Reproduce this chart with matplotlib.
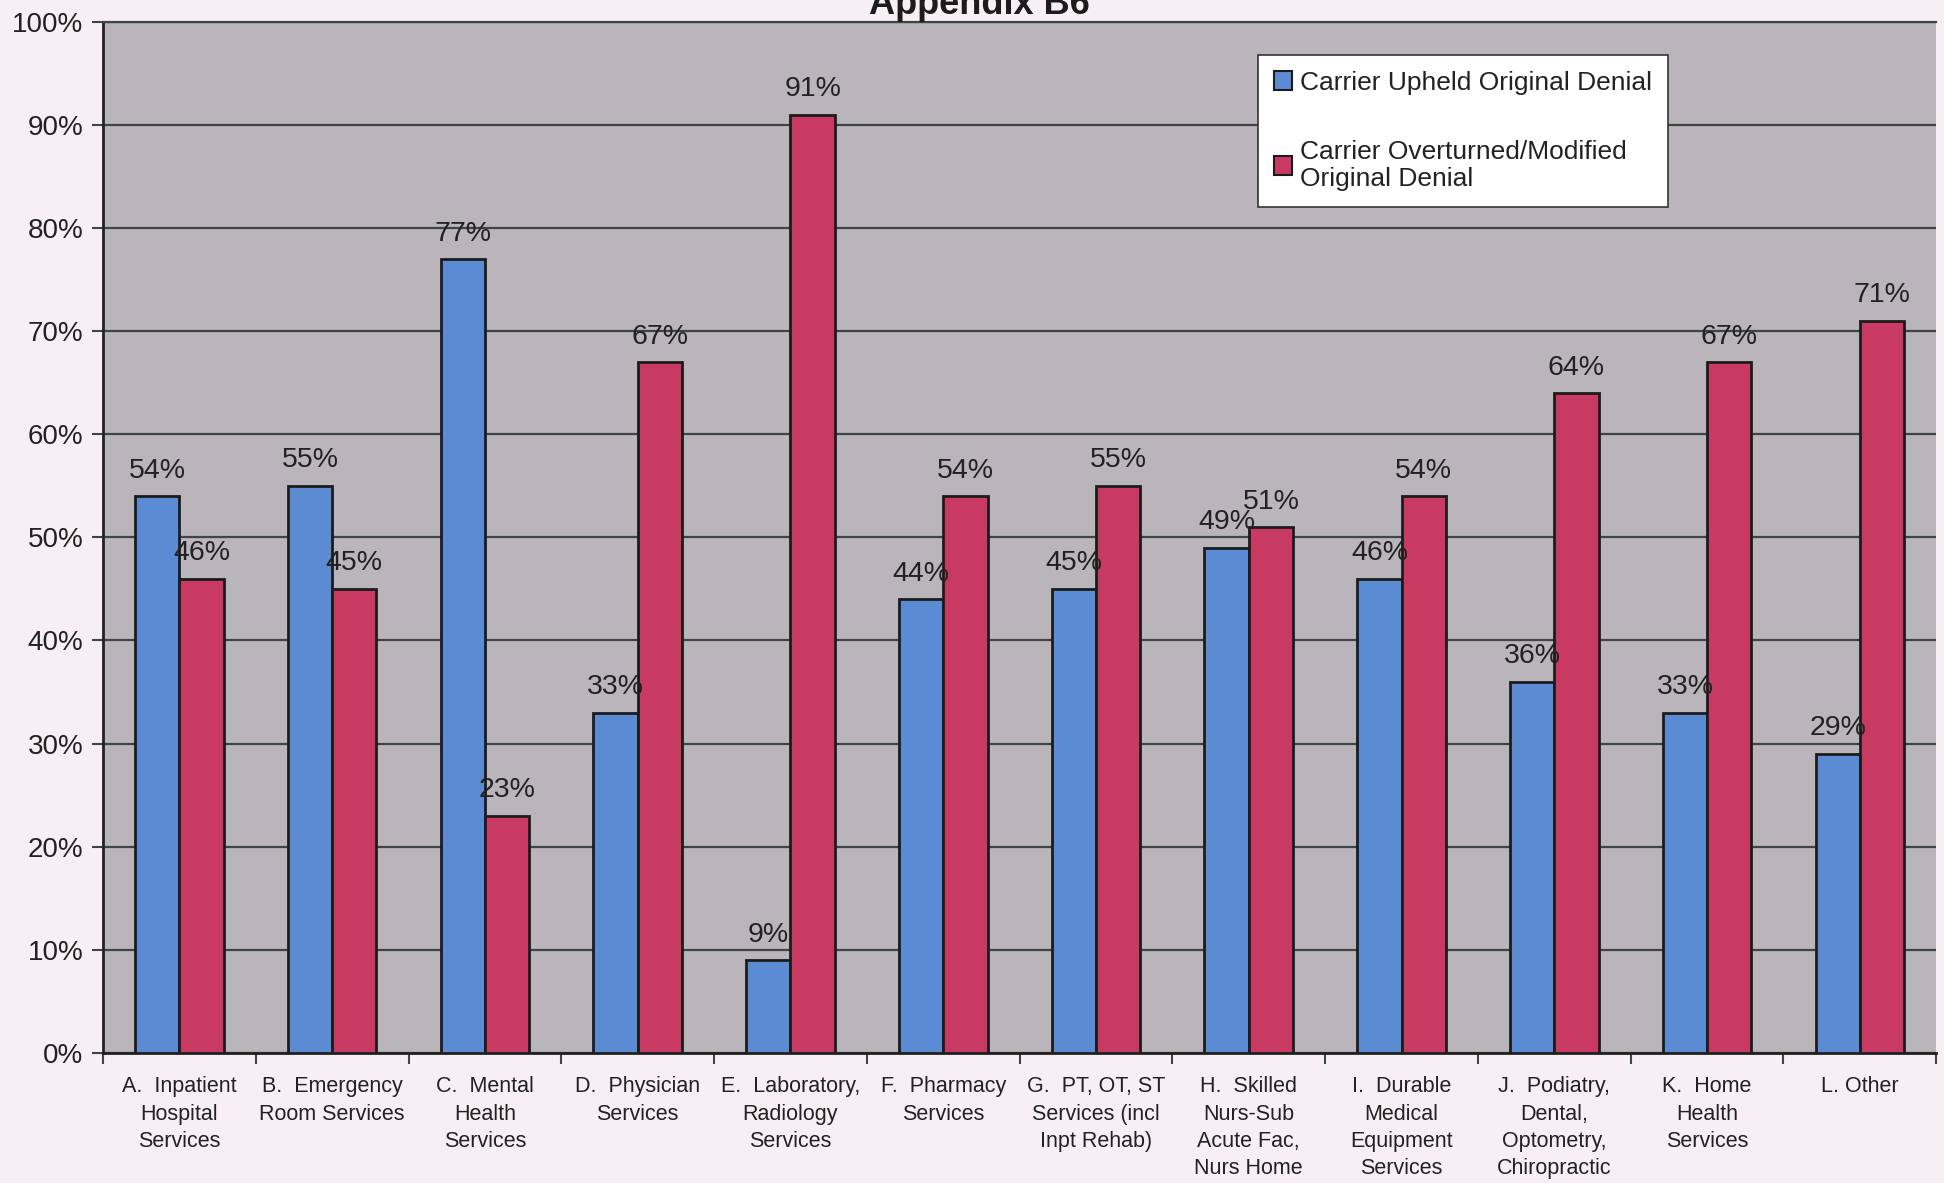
import numpy as np
import matplotlib
matplotlib.use("Agg")
import matplotlib.pyplot as plt
from matplotlib.ticker import FixedLocator, PercentFormatter

plt.rcParams['font.family'] = ['Liberation Sans', 'DejaVu Sans']

categories = [
    "A.  Inpatient\nHospital\nServices",
    "B.  Emergency\nRoom Services",
    "C.  Mental\nHealth\nServices",
    "D.  Physician\nServices",
    "E.  Laboratory,\nRadiology\nServices",
    "F.  Pharmacy\nServices",
    "G.  PT, OT, ST\nServices (incl\nInpt Rehab)",
    "H.  Skilled\nNurs-Sub\nAcute Fac,\nNurs Home",
    "I.  Durable\nMedical\nEquipment\nServices",
    "J.  Podiatry,\nDental,\nOptometry,\nChiropractic",
    "K.  Home\nHealth\nServices",
    "L. Other",
]
upheld = [54, 55, 77, 33, 9, 44, 45, 49, 46, 36, 33, 29]
overturned = [46, 45, 23, 67, 91, 54, 55, 51, 54, 64, 67, 71]
series_names = ["Carrier Upheld Original Denial",
                "Carrier Overturned/Modified\nOriginal Denial"]

blue = "#5b8bd3"
red = "#c93a63"
grid_col = "#3c4743"
text_col = "#222222"

fig = plt.figure(figsize=(19.44, 11.83), dpi=100, facecolor="#f8eff4")
ax = fig.add_axes([0.053, 0.110, 0.943, 0.8715])
ax.set_facecolor("#bab5ba")

x = np.arange(len(categories))
w = 0.29
b1 = ax.bar(x - w / 2, upheld, w, color=blue, edgecolor="#1c1c1c", linewidth=2,
            label=series_names[0], zorder=3)
b2 = ax.bar(x + w / 2, overturned, w, color=red, edgecolor="#1c1c1c", linewidth=2,
            label=series_names[1], zorder=3)

for bars, vals in ((b1, upheld), (b2, overturned)):
    for bar, v in zip(bars, vals):
        ax.annotate(f"{v}%", (bar.get_x() + bar.get_width() / 2, v),
                    xytext=(0, 9), textcoords="offset points",
                    ha="center", va="bottom", fontsize=20.5, color=text_col, zorder=4)

ax.set_xlim(-0.5, len(categories) - 0.5)
ax.set_ylim(0, 100)
ax.yaxis.set_major_locator(FixedLocator(range(0, 101, 10)))
ax.yaxis.set_major_formatter(PercentFormatter(decimals=0))
ax.grid(axis="y", color=grid_col, linewidth=1.6, zorder=1)

ax.set_xticks(x)
ax.set_xticklabels(categories, fontsize=15.5, color=text_col, linespacing=1.38, va="top")
ax.set_xticks(np.arange(-0.5, len(categories)), minor=True)
ax.tick_params(axis="x", which="major", length=0, pad=17)
ax.tick_params(axis="x", which="minor", length=8, width=1.5, color=grid_col)
ax.tick_params(axis="y", length=8, width=1.5, color=grid_col, labelsize=20,
               labelcolor=text_col, pad=6)

for side in ("left", "bottom"):
    ax.spines[side].set_color("#222222")
    ax.spines[side].set_linewidth(2)
ax.spines["top"].set_color(grid_col)
ax.spines["top"].set_linewidth(1.6)
ax.spines["right"].set_visible(False)

leg = ax.legend(loc="upper left", bbox_to_anchor=(0.63, 0.968), borderaxespad=0,
                fontsize=19, frameon=True, fancybox=False, edgecolor="#333333",
                handlelength=0.7, handleheight=0.7, handletextpad=0.3,
                labelspacing=1.7, borderpad=0.6)
leg.get_frame().set_linewidth(1.2)
leg.get_frame().set_facecolor("white")
leg.get_frame().set_alpha(1)
for h in leg.legend_handles:
    h.set_linewidth(1.5)
for t in leg.get_texts():
    t.set_color(text_col)

# heading sits mostly above the top edge of the page
fig.text(0.504, 1 - 14 / 1183, "Appendix B6", ha="center", va="baseline",
         fontsize=26, fontweight="bold", color="#1c1c1c")

fig.savefig("out.png", dpi=100, facecolor=fig.get_facecolor())
